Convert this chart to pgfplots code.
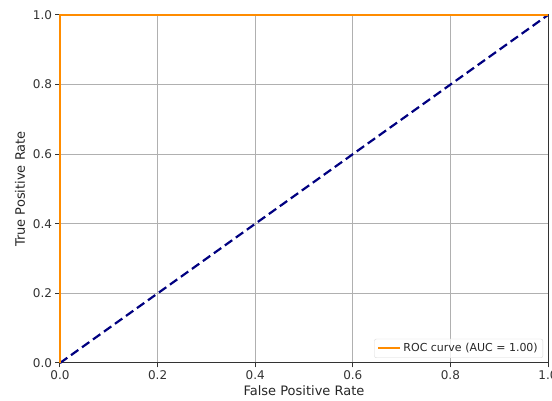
\documentclass[border=0pt]{standalone}
\usepackage{fontspec}
\setmainfont{DejaVu Sans}
\usepackage{pgfplots}
\pgfplotsset{compat=1.18}

\definecolor{roc}{HTML}{FF8C00}
\definecolor{navyc}{HTML}{000080}
\definecolor{gridc}{HTML}{B0B0B0}

\begin{document}
\begin{tikzpicture}[font=\fontsize{13}{15}\selectfont]
\begin{axis}[
    at={(0pt,0pt)}, anchor=south west,
    width=488pt, height=348pt, scale only axis,
    xmin=0, xmax=1, ymin=0, ymax=1.0,
    xtick={0,0.2,...,1.0}, ytick={0,0.2,...,1.0},
    xticklabel style={/pgf/number format/.cd, fixed, fixed zerofill, precision=1},
    yticklabel style={/pgf/number format/.cd, fixed, fixed zerofill, precision=1},
    ticklabel style={font=\fontsize{12}{14}\selectfont, text=black!80},
    /pgf/number format/assume math mode=true,
    tick align=outside, major tick length=4.5pt,
    tick style={black!80, line width=1pt},
    xtick pos=bottom, ytick pos=left,
    axis line style={black!80, line width=1pt},
    grid=major, grid style={gridc, line width=1pt},
    xlabel={False Positive Rate}, ylabel={True Positive Rate},
    label style={text=black!85},
    xlabel style={yshift=1pt},
    ylabel style={yshift=1pt},
    legend cell align=left,
    legend style={at={(1,0)}, anchor=south east, xshift=-5pt, yshift=5pt,
        draw=gray!30, rounded corners=2pt, fill=white, fill opacity=0.8,
        text opacity=1, font=\fontsize{11}{13}\selectfont, text=black!85,
        inner xsep=3pt, inner ysep=2.5pt},
    legend image code/.code={\draw[#1, line width=2pt] (0pt,0pt) -- (22pt,0pt);},
    clip=false,
]
\addplot[navyc, line width=2.2pt, dash pattern=on 9pt off 4.5pt, forget plot]
    coordinates {(0,0) (1,1)};
\addplot[roc, line width=2.2pt] coordinates {(0,0) (0,1) (1,1)};
\addlegendentry{ROC curve (AUC = 1.00)}
\end{axis}
\pgfresetboundingbox
\path[use as bounding box] (-60pt,-38pt) rectangle (492pt,363pt);
\end{tikzpicture}
\end{document}
